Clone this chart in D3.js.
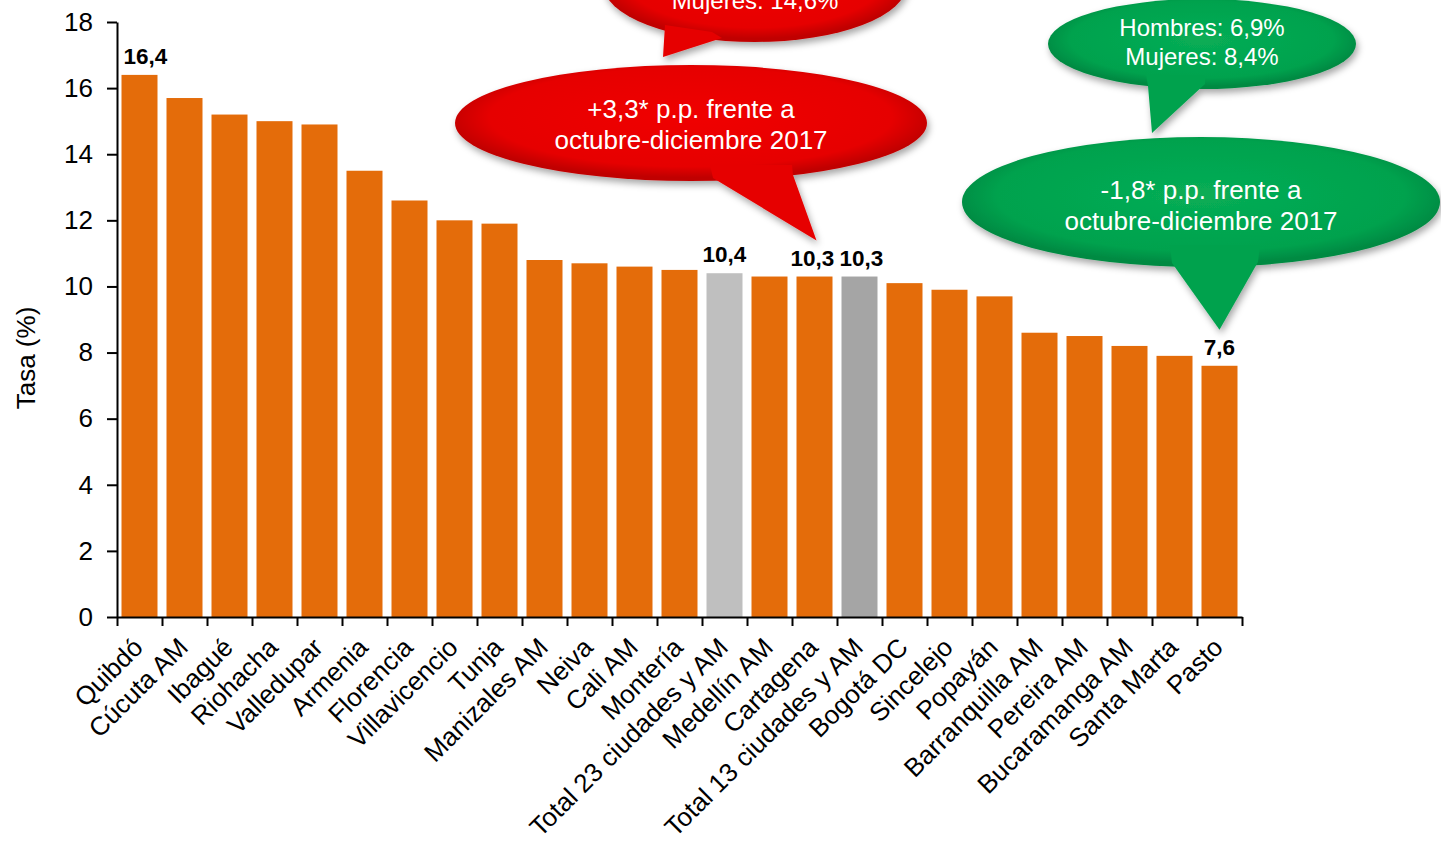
<!DOCTYPE html>
<meta charset="utf-8">
<style>
body { margin: 0; background: white; }
svg { font-family: "Liberation Sans", Arial, sans-serif; }
.axis path, .axis line { stroke: black; stroke-width: 2px; }
.axis text { fill: black; }
</style>
<body>
<script src="https://d3js.org/d3.v7.min.js"></script>
<script>

// chart data
const cities = ["Quibdó", "Cúcuta AM", "Ibagué", "Riohacha", "Valledupar", "Armenia",
  "Florencia", "Villavicencio", "Tunja", "Manizales AM", "Neiva", "Cali AM", "Montería",
  "Total 23 ciudades y AM", "Medellín AM", "Cartagena", "Total 13 ciudades y AM",
  "Bogotá DC", "Sincelejo", "Popayán", "Barranquilla AM", "Pereira AM",
  "Bucaramanga AM", "Santa Marta", "Pasto"];
const rates = [16.4, 15.7, 15.2, 15.0, 14.9, 13.5, 12.6, 12.0, 11.9, 10.8, 10.7, 10.6, 10.5,
  10.4, 10.3, 10.3, 10.3, 10.1, 9.9, 9.7, 8.6, 8.5, 8.2, 7.9, 7.6];
const labeled = ["Quibdó", "Total 23 ciudades y AM", "Cartagena", "Total 13 ciudades y AM", "Pasto"];
const yTicks = [0, 2, 4, 6, 8, 10, 12, 14, 16, 18];

const redTop = ["Mujeres: 14,6%"];
const redMain = ["+3,3* p.p. frente a", "octubre-diciembre 2017"];
const greenTop = ["Hombres: 6,9%", "Mujeres: 8,4%"];
const greenMain = ["-1,8* p.p. frente a", "octubre-diciembre 2017"];

const data = cities.map((c, i) => ({city: c, rate: rates[i]}));

const W = 1441, H = 843;
const plotLeft = 117, plotRight = 1242, plotTop = 22, plotBottom = 617;

const svg = d3.select("body").append("svg")
  .attr("width", W).attr("height", H);

const fmt = d3.formatLocale({decimal: ",", thousands: ".", grouping: [3], currency: ["$", ""]}).format(".1f");

const x = d3.scaleBand().domain(cities).range([plotLeft, plotRight])
  .paddingInner(0.2).paddingOuter(0.1);
const xEdge = d3.scaleLinear().domain([0, cities.length]).range([plotLeft, plotRight]);
const y = d3.scaleLinear().domain([0, 18]).range([plotBottom, plotTop]);

function barColor(c) {
  if (c == "Total 23 ciudades y AM") return "#BFBFBF";
  if (c == "Total 13 ciudades y AM") return "#A5A5A5";
  return "#E46C0A";
}

// bars
svg.selectAll("rect.bar").data(data).enter().append("rect")
  .attr("class", "bar")
  .attr("x", d => x(d.city))
  .attr("width", x.bandwidth())
  .attr("y", d => y(d.rate))
  .attr("height", d => y(0) - y(d.rate))
  .attr("fill", d => barColor(d.city));

// value labels
svg.selectAll("text.val").data(data.filter(d => labeled.includes(d.city))).enter().append("text")
  .attr("class", "val")
  .attr("x", d => x(d.city) + x.bandwidth() / 2 + (d.city == "Quibdó" ? 6 : d.city == "Cartagena" ? -2 : d.city == "Total 13 ciudades y AM" ? 2 : 0))
  .attr("y", d => y(d.rate) - 11)
  .attr("text-anchor", "middle")
  .style("font-size", "22.5px").style("font-weight", "bold")
  .text(d => fmt(d.rate));

// y axis
svg.append("g").attr("class", "axis")
  .attr("transform", "translate(" + plotLeft + ",0)")
  .call(d3.axisLeft(y).tickValues(yTicks).tickSize(10).tickSizeOuter(0).tickPadding(14))
  .selectAll("text").style("font-size", "26px");

// x axis (ticks between categories)
svg.append("g").attr("class", "axis")
  .attr("transform", "translate(0," + plotBottom + ")")
  .call(d3.axisBottom(xEdge).tickValues(d3.range(cities.length + 1)).tickFormat("").tickSize(9).tickSizeOuter(0));

// category labels
svg.selectAll("text.cat").data(cities).enter().append("text")
  .attr("class", "cat")
  .attr("transform", c => "translate(" + (x(c) + x.bandwidth() / 2 + 5) + "," + 649 + ") rotate(-45)")
  .attr("text-anchor", "end")
  .style("font-size", "26px")
  .text(c => c);

// y title
svg.append("text")
  .attr("transform", "translate(35,358) rotate(-90)")
  .attr("text-anchor", "middle")
  .style("font-size", "26px")
  .text("Tasa (%)");

// callouts
const defs = svg.append("defs");
defs.append("filter").attr("id", "shadow")
  .attr("x", "-20%").attr("y", "-20%").attr("width", "140%").attr("height", "160%")
  .append("feDropShadow").attr("dx", 2).attr("dy", 4).attr("stdDeviation", 3.5)
  .attr("flood-color", "#000").attr("flood-opacity", 0.35);

function callout(id, c1, c2, c3, cx, cy, rx, ry, tail, lines, fs, baseY, lh) {
  const g = defs.append("radialGradient").attr("id", id)
    .attr("cx", "50%").attr("cy", "45%").attr("r", "52%");
  g.append("stop").attr("offset", "0%").attr("stop-color", c1);
  g.append("stop").attr("offset", "82%").attr("stop-color", c2);
  g.append("stop").attr("offset", "100%").attr("stop-color", c3);

  const grp = svg.append("g").attr("filter", "url(#shadow)");
  grp.append("ellipse")
    .attr("cx", cx).attr("cy", cy).attr("rx", rx).attr("ry", ry)
    .attr("fill", "url(#" + id + ")");
  grp.append("path")
    .attr("d", "M" + tail.map(p => p.join(",")).join("L") + "Z")
    .attr("fill", c2);
  svg.selectAll(null).data(lines).enter().append("text")
    .attr("x", cx).attr("y", (d, i) => baseY + i * lh)
    .attr("text-anchor", "middle")
    .attr("fill", "white")
    .style("font-size", fs + "px")
    .text(d => d);
}

const redTipX = x("Cartagena") + x.bandwidth() / 2 + 2;
const redTipY = y(10.3) - 36;
const greenTipX = x("Pasto") + x.bandwidth() / 2;
const greenTipY = y(7.6) - 36;

callout("gRed1", "#F00000", "#E60000", "#C00000", 755, -16, 152, 58,
  [[665, 25], [712, 32], [722, 38], [663, 57]], redTop, 24, 9, 29);
callout("gRed2", "#F00000", "#E60000", "#C00000", 691, 123, 236, 58,
  [[710, 165], [792, 165], [793, 175], [redTipX, redTipY], [713, 178]], redMain, 26, 118, 31);
callout("gGreen1", "#08AD55", "#00A24E", "#008A42", 1202, 44, 154, 45,
  [[1146, 75], [1205, 75], [1205, 84], [1152, 133], [1148, 86]], greenTop, 24, 36, 29);
callout("gGreen2", "#08AD55", "#00A24E", "#008A42", 1201, 202, 239, 65,
  [[1170, 245], [1260, 245], [1258, 262], [greenTipX, greenTipY], [1172, 263]], greenMain, 26, 199, 31);

</script>
</body>
